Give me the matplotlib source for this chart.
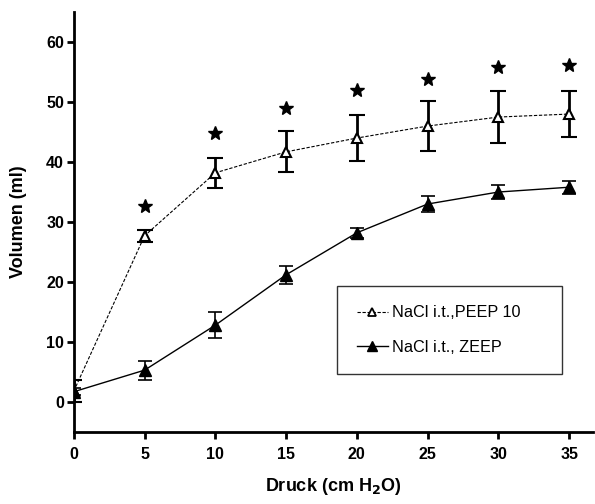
import numpy as np
import matplotlib.pyplot as plt
from matplotlib.lines import Line2D

plt.rcParams['font.family'] = ['Liberation Sans', 'DejaVu Sans']

# data
druck = [0, 5, 10, 15, 20, 25, 30, 35]
peep_mean = [1.8, 27.7, 38.2, 41.7, 44.0, 46.0, 47.5, 48.0]
peep_err = [1.8, 1.0, 2.5, 3.4, 3.9, 4.2, 4.3, 3.9]
zeep_mean = [1.7, 5.3, 12.8, 21.2, 28.2, 33.0, 35.0, 35.8]
zeep_err = [0.6, 1.6, 2.2, 1.5, 0.8, 1.4, 1.2, 1.1]
stern_x = [5, 10, 15, 20, 25, 30, 35]
stern_y = [32.7, 44.8, 49.0, 52.0, 53.8, 55.8, 56.2]

fig = plt.figure(figsize=(5.95, 5.04), dpi=100)
ax = fig.add_axes([0.124, 0.143, 0.873, 0.833])

ax.errorbar(druck, peep_mean, yerr=peep_err, fmt='--', color='black', lw=0.8,
            dashes=(3, 1.5), marker='^', mfc='white', mec='black', mew=1.5, ms=7,
            ecolor='black', elinewidth=2, capsize=6, capthick=2, zorder=3)
ax.errorbar(druck, zeep_mean, yerr=zeep_err, fmt='-', color='black', lw=1.0,
            marker='^', mfc='black', mec='black', ms=8,
            ecolor='black', elinewidth=1.2, capsize=5, capthick=1.2, zorder=4)
ax.plot(stern_x, stern_y, linestyle='none', marker='*', color='black', ms=10.5)

ax.set_xlim(0, 36.7)
ax.set_ylim(-5, 65)
ax.set_xticks(druck)
ax.set_yticks([0, 10, 20, 30, 40, 50, 60])
for s in ['top', 'right']:
    ax.spines[s].set_visible(False)
for s in ['left', 'bottom']:
    ax.spines[s].set_linewidth(2)
ax.tick_params(width=2, length=5, labelsize=11.5)
ax.yaxis.set_tick_params(pad=2)
for lab in ax.get_xticklabels() + ax.get_yticklabels():
    lab.set_fontweight('bold')
ax.xaxis.set_tick_params(pad=6)

ax.set_xlabel('Druck (cm H$_\\mathbf{2}$O)', fontsize=13, fontweight='bold', labelpad=10)
ax.set_ylabel('Volumen (ml)', fontsize=13, fontweight='bold', labelpad=14)

handles = [
    Line2D([], [], color='black', lw=0.8, linestyle='--', dashes=(3, 1.5),
           marker='^', mfc='white', mec='black', mew=1.3, ms=6),
    Line2D([], [], color='black', lw=1.0, marker='^', mfc='black', mec='black', ms=6.5),
]
leg = ax.legend(handles, ['NaCl i.t.,PEEP 10', 'NaCl i.t., ZEEP'],
                loc='upper left', bbox_to_anchor=(0.507, 0.348, 0.432, 0.0),
                mode='expand', fontsize=11.7, frameon=True, fancybox=False,
                edgecolor='black', handlelength=1.9, borderpad=1.2,
                labelspacing=1.2, handletextpad=0.3, borderaxespad=0)
leg.get_frame().set_linewidth(1.0)

fig.savefig('out.png', dpi=100)
